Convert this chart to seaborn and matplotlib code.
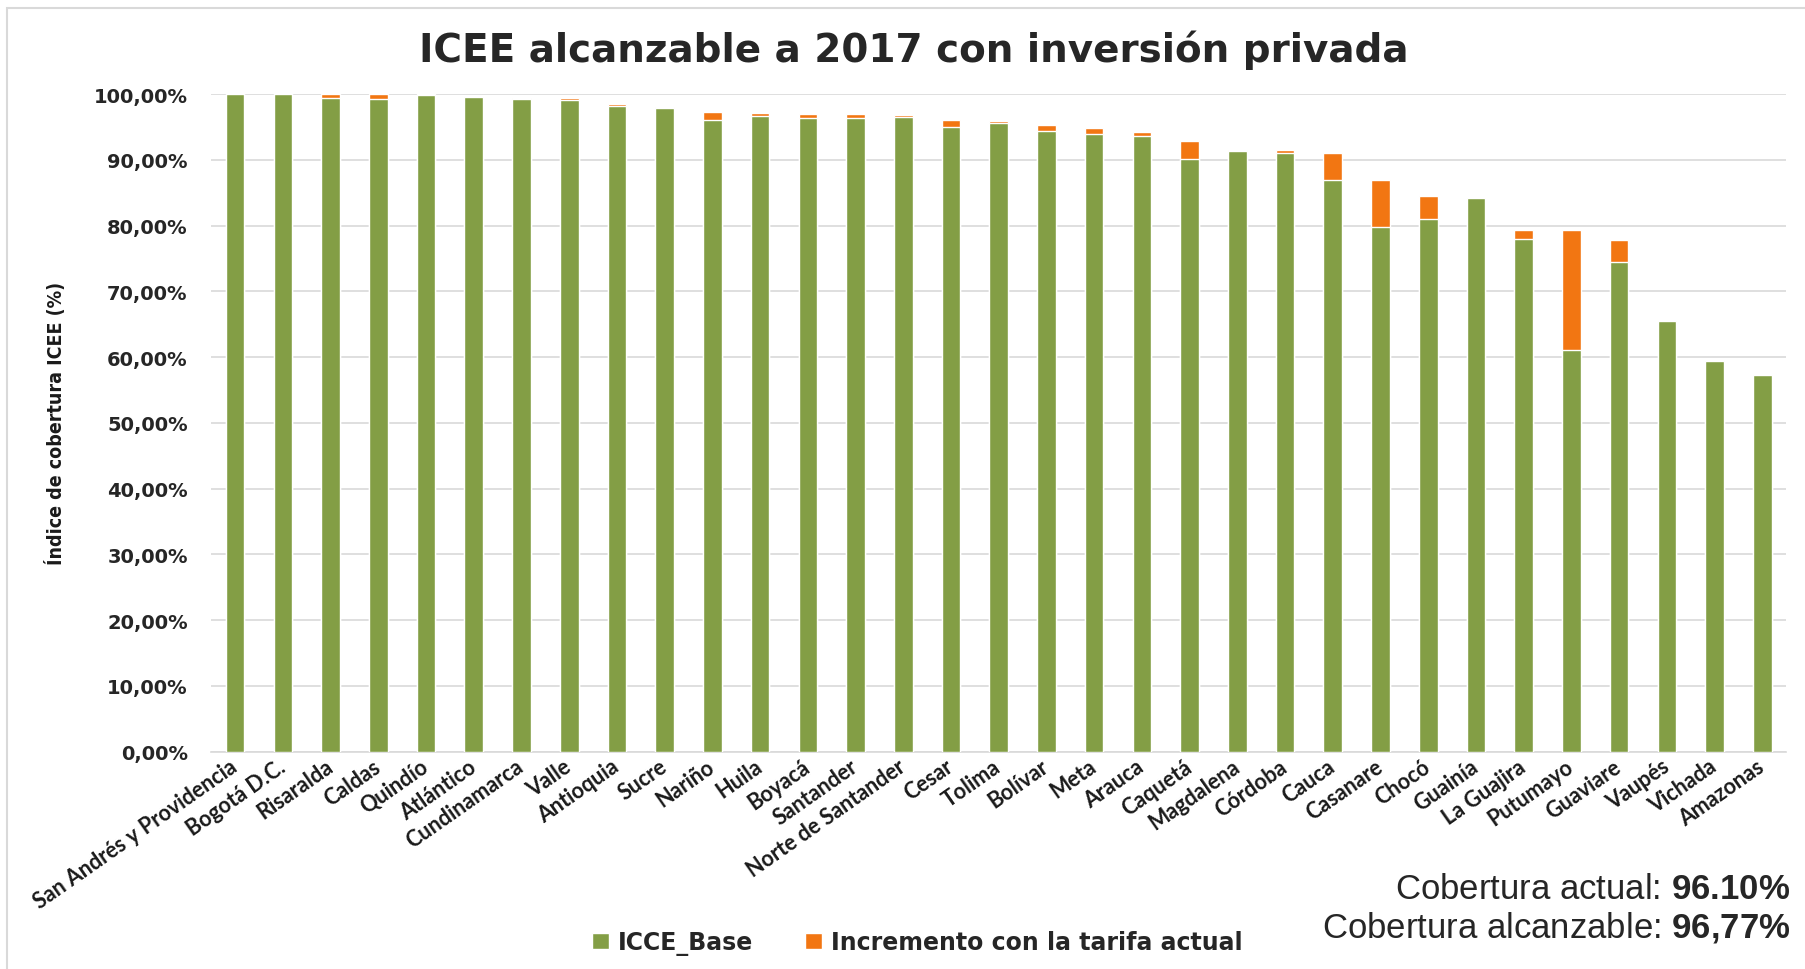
import numpy as np
import pandas as pd
import matplotlib
matplotlib.use("Agg")
import matplotlib.pyplot as plt
import seaborn as sns
from matplotlib.patches import Patch, Rectangle

# datos
departamentos = [
    'San Andrés y Providencia', 'Bogotá D.C.', 'Risaralda', 'Caldas', 'Quindío',
    'Atlántico', 'Cundinamarca', 'Valle', 'Antioquia', 'Sucre', 'Nariño', 'Huila',
    'Boyacá', 'Santander', 'Norte de Santander', 'Cesar', 'Tolima', 'Bolívar',
    'Meta', 'Arauca', 'Caquetá', 'Magdalena', 'Córdoba', 'Cauca', 'Casanare',
    'Chocó', 'Guainía', 'La Guajira', 'Putumayo', 'Guaviare', 'Vaupés',
    'Vichada', 'Amazonas'
]
icce_base = [100.0, 100.0, 99.35, 99.2, 99.8, 99.5, 99.25, 99.1, 98.2, 97.9,
             96.0, 96.6, 96.35, 96.3, 96.55, 94.93, 95.6, 94.37, 93.96, 93.66,
             90.1, 91.33, 91.03, 86.9, 79.82, 80.99, 84.23, 77.9, 61.02, 74.4,
             65.43, 59.35, 57.27]
incremento = [0.0, 0.0, 0.65, 0.8, 0.2, 0.05, 0.15, 0.3, 0.3, 0.2,
              1.2, 0.5, 0.6, 0.65, 0.2, 1.07, 0.25, 0.93, 0.94, 0.6,
              2.7, 0.15, 0.45, 4.13, 7.05, 3.55, 0.0, 1.47, 18.35, 3.35,
              0.0, 0.0, 0.0]
y_ticks = [0, 10, 20, 30, 40, 50, 60, 70, 80, 90, 100]

df = pd.DataFrame({'Departamento': departamentos,
                   'Base': icce_base,
                   'Incremento': incremento})
df['Total'] = df['Base'] + df['Incremento']

verde = '#839E45'
naranja = '#F27612'

sns.set_theme(style="white")
plt.rcParams['mathtext.fontset'] = 'custom'
plt.rcParams['mathtext.rm'] = 'Liberation Sans'
plt.rcParams['mathtext.bf'] = 'Liberation Sans:bold'

fig = plt.figure(figsize=(18.06, 9.70), dpi=100)
ax = fig.add_axes([0.117, 0.2241, 0.872, 0.6779])

# barras apiladas: total (naranja) y base encima (verde)
sns.barplot(data=df, x='Departamento', y='Total', color=naranja,
            width=0.39, saturation=1, ax=ax, zorder=2)
sns.barplot(data=df, x='Departamento', y='Base', color=verde,
            width=0.39, saturation=1, ax=ax, zorder=3)

ax.set_xlim(-0.5, len(departamentos) - 0.5)
ax.set_ylim(0, 100)
ax.set_yticks(y_ticks)
ax.set_yticklabels([f"{v:.2f}".replace('.', ',') + '%' for v in y_ticks],
                   fontsize=14, fontweight='bold', color='#262626')
ax.yaxis.grid(True, color='#D9D9D9', linewidth=1.2, zorder=0)
ax.set_axisbelow(True)
for s in ['top', 'right', 'left']:
    ax.spines[s].set_visible(False)
ax.spines['bottom'].set_color('#D9D9D9')
ax.spines['bottom'].set_linewidth(1.2)
ax.tick_params(axis='y', length=0, pad=17)
ax.tick_params(axis='x', length=0, pad=9)

ax.set_xlabel('')
ax.set_xticks(range(len(departamentos)))
ax.set_xticklabels(departamentos, rotation=35, ha='right', va='center',
                   rotation_mode='anchor', fontsize=15.5, fontweight='bold',
                   family=['Lato', 'DejaVu Sans'], color='#1a1a1a')

ax.set_ylabel('Índice de cobertura ICEE (%)', fontsize=14, fontweight='bold',
              fontstretch='condensed', family=['DejaVu Sans'], color='#1a1a1a')
ax.yaxis.set_label_coords(-0.092, 0.5)

fig.text(0.506, 0.948, 'ICEE alcanzable a 2017 con inversión privada',
         ha='center', va='center', fontsize=28, fontweight='bold', color='#262626')

# leyenda
handles = [Patch(facecolor=verde, label='ICCE_Base'),
           Patch(facecolor=naranja, label='Incremento con la tarifa actual')]
fig.legend(handles=handles, loc='center', bbox_to_anchor=(0.508, 0.027),
           ncol=2, frameon=False, handlelength=0.7, handleheight=0.7,
           handletextpad=0.4, columnspacing=2.2,
           prop={'size': 17, 'weight': 'bold'})

# cobertura
fig.text(0.9915, 0.0835, r'Cobertura actual: $\mathbf{96.10\%}$',
         ha='right', va='center', fontsize=25, family='Liberation Sans')
fig.text(0.9915, 0.0435, r'Cobertura alcanzable: $\mathbf{96{,}77\%}$',
         ha='right', va='center', fontsize=25, family='Liberation Sans')

# borde del área del gráfico
fig.patches.append(Rectangle((0.0037, -0.05), 1.1, 1.05 - 0.0093,
                             transform=fig.transFigure, fill=False,
                             edgecolor='#D9D9D9', linewidth=1.5))

fig.savefig('out.png', dpi=100)
